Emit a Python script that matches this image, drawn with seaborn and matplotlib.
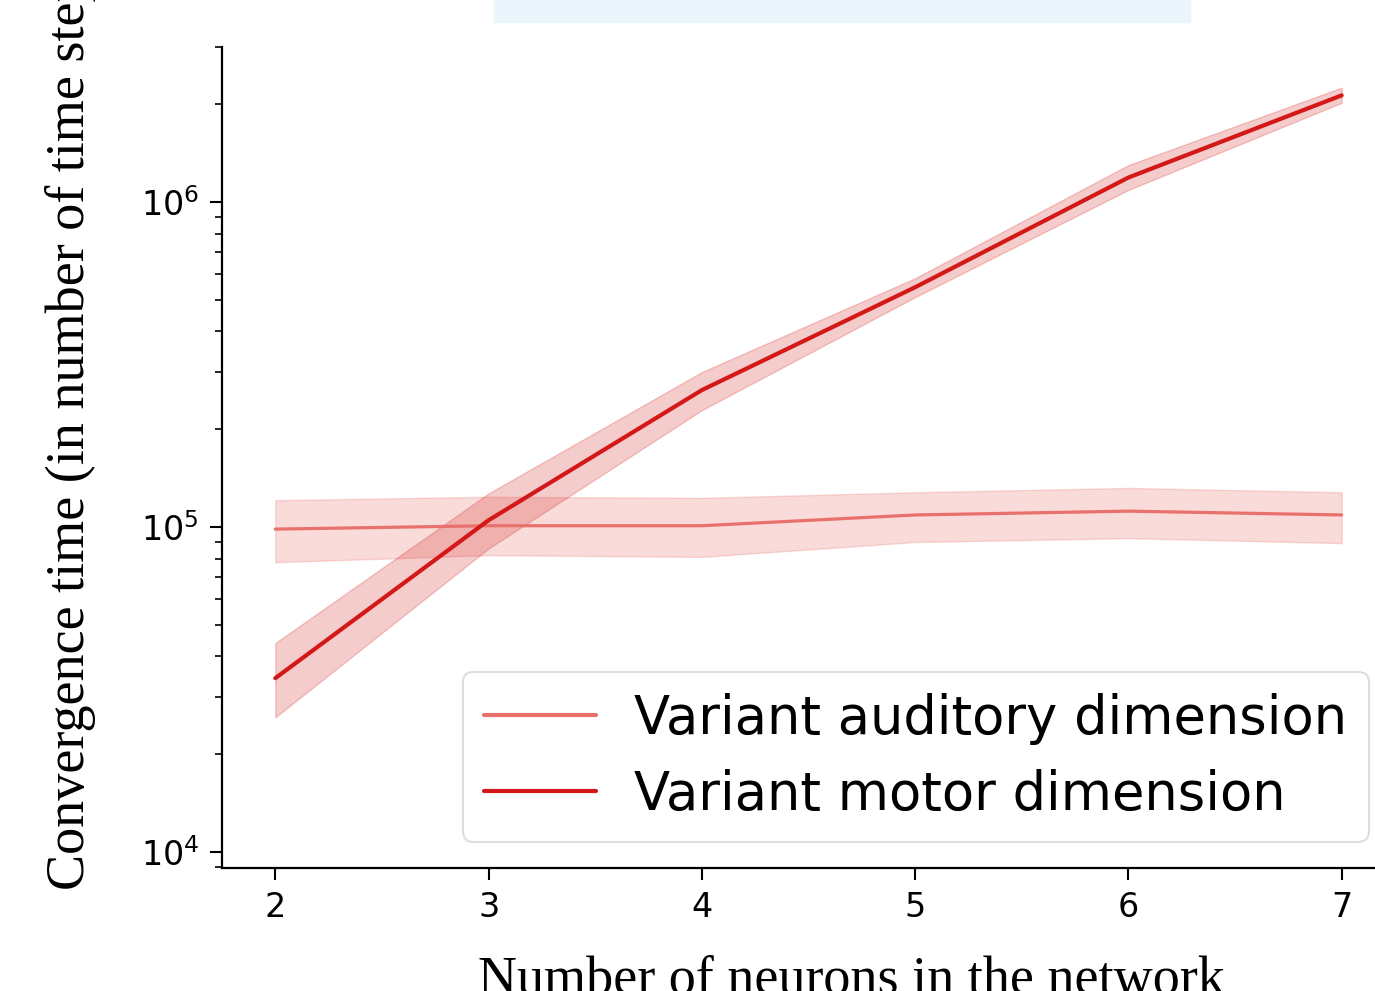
import numpy as np
import pandas as pd
import matplotlib
matplotlib.use("Agg")
import matplotlib.pyplot as plt
import seaborn as sns
from matplotlib.patches import Rectangle

# ---- data ----
neurons = [2, 3, 4, 5, 6, 7]
auditory_mean = [9.86e4, 1.01e5, 1.01e5, 1.09e5, 1.12e5, 1.09e5]
auditory_low = [7.8e4, 8.2e4, 8.1e4, 9.0e4, 9.25e4, 8.93e4]
auditory_high = [1.21e5, 1.24e5, 1.23e5, 1.28e5, 1.32e5, 1.28e5]
motor_mean = [3.43e4, 1.05e5, 2.64e5, 5.47e5, 1.19e6, 2.13e6]
motor_low = [2.6e4, 8.6e4, 2.29e5, 5.1e5, 1.09e6, 2.02e6]
motor_high = [4.4e4, 1.27e5, 3.0e5, 5.83e5, 1.3e6, 2.25e6]
series_labels = ["Variant auditory dimension", "Variant motor dimension"]
x_label = "Number of neurons in the network"
y_label = "Convergence time (in number of time steps)"

# ---- long-form table ----
rows = []
for lab, lo, mid, hi in [(series_labels[0], auditory_low, auditory_mean, auditory_high),
                         (series_labels[1], motor_low, motor_mean, motor_high)]:
    for x, a, b, c in zip(neurons, lo, mid, hi):
        for v in (a, b, c):
            rows.append({"neurons": x, "time": v, "series": lab})
df = pd.DataFrame(rows)

sns.set_style("ticks")
plt.rcParams["text.color"] = "black"
plt.rcParams["xtick.color"] = "black"
plt.rcParams["ytick.color"] = "black"
plt.rcParams["axes.labelcolor"] = "black"

W, H = 1375, 991
fig = plt.figure(figsize=(W / 100, H / 100), dpi=100)
ax_left, ax_bottom, ax_right, ax_top = 222, 868, 1395, 47
ax = fig.add_axes([ax_left / W, 1 - ax_bottom / H, (ax_right - ax_left) / W, (ax_bottom - ax_top) / H])
ax.set_yscale("log")

colors = {series_labels[0]: "#e8716b", series_labels[1]: "#d41818"}
widths = {series_labels[0]: 2.3, series_labels[1]: 3.0}
alphas = {series_labels[0]: 0.25, series_labels[1]: 0.22}
for lab in series_labels:
    sns.lineplot(data=df[df["series"] == lab], x="neurons", y="time",
                 estimator="median", errorbar=lambda v: (v.min(), v.max()),
                 color=colors[lab], linewidth=widths[lab], label=lab, ax=ax,
                 err_kws={"alpha": alphas[lab], "linewidth": 1.0})

ax.set_xlim(1.75, 7.25)
ax.set_ylim(8.94e3, 3.0e6)
ax.set_xticks(neurons)

sns.despine(ax=ax)
for s in ("left", "bottom"):
    ax.spines[s].set_linewidth(1.6)
    ax.spines[s].set_color("black")
ax.tick_params(axis="both", which="major", labelsize=24, length=8.6, width=1.5, pad=8,
               color="black", labelcolor="black")
ax.tick_params(axis="y", which="minor", length=5, width=1.2, color="black")

serif = ["Liberation Serif", "DejaVu Serif"]
ax.set_xlabel(x_label, family=serif, fontsize=39, color="black")
ax.set_ylabel(y_label, family=serif, fontsize=39, color="black")
axw = ax_right - ax_left
axh = ax_bottom - ax_top
ax.xaxis.set_label_coords((478 - ax_left) / axw, (ax_bottom - 994) / axh)
ax.xaxis.label.set_ha("left")
ax.xaxis.label.set_va("baseline")
ax.yaxis.set_label_coords((84 - ax_left) / axw, (ax_bottom - 890) / axh)
ax.yaxis.label.set_ha("left")
ax.yaxis.label.set_va("baseline")

leg = ax.legend(loc="lower right", fontsize=38, handlelength=2.13, handletextpad=0.72,
                labelspacing=0.45, borderpad=0.4, framealpha=0.8, fancybox=True)
leg.get_frame().set_linewidth(1.5)
leg.get_frame().set_edgecolor("#d6d6d6")
for t in leg.get_texts():
    t.set_color("black")
for h in leg.get_lines():
    h.set_linewidth(3.0)

fig.patches.append(Rectangle((494 / W, 1 - 22 / H), 696 / W, 22 / H,
                             transform=fig.transFigure, color="#eaf5fc", zorder=0))

fig.savefig("out.png", dpi=100)
